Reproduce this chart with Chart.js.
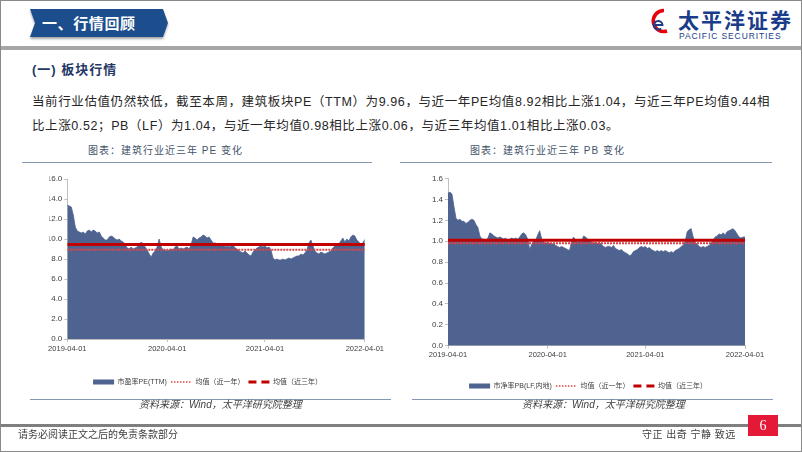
<!DOCTYPE html>
<html>
<head>
<meta charset="utf-8">
<script src="https://cdn.jsdelivr.net/npm/chart.js@4.4.1/dist/chart.umd.min.js"></script>
<style>
  body { margin: 0; width: 802px; height: 452px; position: relative; overflow: hidden; background: #fff;
         font-family: 'Liberation Sans', 'Noto Sans CJK SC', sans-serif; }
  .abs { position: absolute; white-space: nowrap; }
  .frame { left: 0; top: 0; width: 802px; height: 452px; box-sizing: border-box; border: 1px solid #8a8a8a; }
  .hline { position: absolute; }
  .para { font-size: 12.5px; letter-spacing: 0.6px; color: #262626; line-height: 20px; }
  .ctitle { font-size: 10px; letter-spacing: 1px; color: #44546a; line-height: 14px; }
  .src { font-size: 10px; font-style: italic; color: #404040; line-height: 14px; }
  .foot { font-size: 10px; color: #404040; line-height: 14px; }
  canvas { position: absolute; }
</style>
</head>
<body>
<div class="abs frame"></div>

<!-- header -->
<svg class="abs" style="left:0;top:0" width="200" height="46">
  <defs>
    <filter id="sh" x="-10%" y="-10%" width="120%" height="150%">
      <feDropShadow dx="0" dy="2" stdDeviation="1.2" flood-color="#000" flood-opacity="0.35"/>
    </filter>
  </defs>
  <polygon points="30,9 163,9 168,23 163,37 30,37 35,23" fill="#1f4e8c" filter="url(#sh)"/>
  <text x="42" y="29" fill="#fff" font-size="15" font-weight="bold" letter-spacing="0.6"
        font-family="Noto Sans CJK SC">一、行情回顾</text>
</svg>
<div class="hline" style="left:1px;top:46px;width:800px;height:4px;background:#a6a6a6"></div>

<svg class="abs" style="left:644px;top:7px" width="30" height="30">
  <path d="M20,3.5 A10.5,10.5 0 1,0 23,24" stroke="#e60012" stroke-width="3.6" fill="none"/>
  <path d="M10.5,18 h8 a4.3,4.3 0 1,0 -1.4,3.4" stroke="#1d3f87" stroke-width="2" fill="none"/>
</svg>
<div class="abs" style="left:678px;top:6px;font-size:21px;font-weight:bold;color:#1a3c8a;letter-spacing:2px;line-height:26px;font-family:'Noto Sans CJK SC'">太平洋证券</div>
<div class="abs" style="left:679px;top:31px;font-size:8.5px;color:#1a3c8a;letter-spacing:0.9px;line-height:10px">PACIFIC SECURITIES</div>

<!-- text block -->
<div class="abs" style="left:32px;top:62px;font-size:13px;font-weight:bold;color:#1f3864;letter-spacing:1px;line-height:16px">(一) 板块行情</div>
<div class="abs para" style="left:32px;top:92px">当前行业估值仍然较低，截至本周，建筑板块PE（TTM）为9.96，与近一年PE均值8.92相比上涨1.04，与近三年PE均值9.44相</div>
<div class="abs para" style="left:32px;top:116px">比上涨0.52；PB（LF）为1.04，与近一年均值0.98相比上涨0.06，与近三年均值1.01相比上涨0.03。</div>

<!-- chart titles -->
<div class="abs ctitle" style="left:88px;top:144px">图表：建筑行业近三年 PE 变化</div>
<div class="abs ctitle" style="left:470px;top:144px">图表：建筑行业近三年 PB 变化</div>
<div class="hline" style="left:22px;top:162px;width:350px;height:1px;background:#8497b0"></div>
<div class="hline" style="left:400px;top:162px;width:372px;height:1px;background:#8497b0"></div>

<canvas id="peChart" style="left:30px;top:168px;width:356px;height:230px" width="356" height="230"></canvas>
<canvas id="pbChart" style="left:420px;top:168px;width:355px;height:234px" width="355" height="234"></canvas>

<!-- sources -->
<div class="hline" style="left:30px;top:399px;width:361px;height:1px;background:#8497b0"></div>
<div class="hline" style="left:412px;top:399px;width:361px;height:1px;background:#8497b0"></div>
<div class="abs src" style="left:139px;top:398px">资料来源：Wind，太平洋研究院整理</div>
<div class="abs src" style="left:522px;top:398px">资料来源：Wind，太平洋研究院整理</div>

<!-- footer -->
<div class="hline" style="left:1px;top:424px;width:800px;height:3px;background:#7f7f7f"></div>
<div class="abs foot" style="left:18px;top:428px">请务必阅读正文之后的免责条款部分</div>
<div class="abs foot" style="left:642px;top:428px;letter-spacing:0.5px">守正 出奇 宁静 致远</div>
<div class="abs" style="left:748px;top:415px;width:30px;height:21px;background:#e31937;color:#fff;font-size:14px;line-height:21px;text-align:center;font-family:'Liberation Serif',serif">6</div>

<script>
// ── data ─────────────────────────────────────────────────
const dateLabels = ['2019-04-01', '2020-04-01', '2021-04-01', '2022-04-01'];
const tickIdx    = [0, 50, 99, 149];

// weekly PE(TTM)
const peValues = [
  13.4, 13.3, 13.2, 12.4, 11.2, 10.8, 10.7, 10.6, 10.7, 10.5,
  10.8, 10.9, 10.7, 10.9, 10.8, 10.6, 10.7, 10.3, 10.1, 9.9,
  9.9, 10.2, 10.3, 10.2, 10.0, 9.9, 10.0, 9.8, 9.7, 9.4,
  9.1, 9.0, 9.2, 9.0, 9.1, 9.2, 9.4, 9.7, 9.5, 9.2,
  8.9, 8.5, 8.2, 8.6, 8.8, 9.2, 10.0, 9.2, 8.9, 8.9,
  8.8, 8.9, 9.0, 8.9, 9.2, 9.3, 9.0, 9.1, 9.0, 9.1,
  9.2, 9.0, 9.4, 10.2, 10.1, 9.9, 10.1, 10.2, 10.4, 10.3,
  10.1, 10.2, 9.9, 9.6, 9.6, 9.5, 9.6, 9.4, 9.5, 9.2,
  9.3, 9.2, 9.3, 9.4, 9.1, 9.0, 8.8, 8.7, 8.6, 8.8,
  8.6, 8.4, 8.3, 8.7, 8.9, 9.1, 9.2, 9.3, 9.2, 9.3,
  9.1, 9.2, 8.9, 8.1, 7.9, 8.0, 7.9, 7.9, 8.0, 7.9,
  8.0, 8.1, 8.0, 8.1, 8.2, 8.3, 8.3, 8.5, 8.4, 8.6,
  8.9, 9.6, 9.9, 9.3, 8.8, 8.6, 8.5, 8.7, 8.6, 8.5,
  8.6, 8.7, 8.8, 9.1, 9.3, 9.4, 9.5, 9.8, 10.1, 9.7,
  10.0, 9.8, 10.2, 10.4, 10.3, 9.9, 9.7, 9.5, 9.6, 9.96
];
const peAvg1y = 8.92;
const peAvg3y = 9.44;
const peTicks = [0, 2, 4, 6, 8, 10, 12, 14, 16];

// weekly PB(LF)
const pbValues = [
  1.46, 1.47, 1.45, 1.33, 1.22, 1.20, 1.21, 1.19, 1.19, 1.17,
  1.18, 1.20, 1.21, 1.20, 1.16, 1.13, 1.05, 1.02, 1.02, 1.01,
  1.03, 1.08, 1.07, 1.05, 1.04, 1.03, 1.04, 1.03, 1.02, 1.03,
  0.99, 1.02, 1.03, 1.02, 1.03, 1.02, 1.04, 1.07, 1.08, 1.06,
  1.02, 0.92, 0.97, 1.00, 1.01, 1.06, 1.10, 1.02, 0.99, 0.98,
  0.99, 0.98, 0.97, 0.98, 0.96, 0.95, 0.94, 0.95, 0.94, 0.93,
  0.92, 0.91, 1.00, 1.04, 1.01, 0.99, 1.00, 0.99, 1.05, 1.04,
  1.02, 1.01, 0.99, 0.98, 0.99, 0.98, 0.99, 0.97, 0.95, 0.94,
  0.95, 0.95, 0.94, 0.96, 0.93, 0.92, 0.91, 0.92, 0.90, 0.89,
  0.88, 0.86, 0.87, 0.90, 0.91, 0.92, 0.94, 0.95, 0.94, 0.95,
  0.93, 0.94, 0.92, 0.91, 0.90, 0.91, 0.90, 0.91, 0.90, 0.91,
  0.90, 0.89, 0.90, 0.89, 0.91, 0.92, 0.93, 0.95, 0.96, 1.00,
  1.09, 1.11, 1.12, 1.04, 0.99, 0.97, 0.95, 0.94, 0.95, 0.94,
  0.95, 0.96, 0.98, 1.01, 1.04, 1.05, 1.07, 1.06, 1.08, 1.06,
  1.09, 1.10, 1.11, 1.12, 1.10, 1.07, 1.04, 1.03, 1.04, 1.04
];
const pbAvg1y = 0.98;
const pbAvg3y = 1.01;
const pbTicks = [0, 0.2, 0.4, 0.6, 0.8, 1.0, 1.2, 1.4, 1.6];

// ── styles ───────────────────────────────────────────────
const AREA = '#4f6391';
const RED1 = '#d9464a';
const RED3 = '#c00000';
const AXIS = '#bfbfbf';
const TXT  = '#404040';

Chart.defaults.font.family = "'Liberation Sans', 'Noto Sans CJK SC', sans-serif";
Chart.defaults.animation = false;

function makeChart(id, values, avg1, avg3, yTicks, areaLabel, box) {
  const last = values.length - 1;
  return new Chart(document.getElementById(id), {
    type: 'line',
    data: {
      datasets: [
        {
          label: areaLabel,
          data: values.map((v, i) => ({ x: i, y: v })),
          fill: 'origin',
          backgroundColor: AREA,
          borderColor: AREA,
          borderWidth: 0.8,
          pointRadius: 0,
          order: 3
        },
        {
          label: '均值（近一年）',
          data: [{ x: 0, y: avg1 }, { x: last, y: avg1 }],
          borderColor: RED1,
          borderWidth: 2,
          borderDash: [2, 1],
          pointRadius: 0,
          fill: false,
          order: 2
        },
        {
          label: '均值（近三年）',
          data: [{ x: 0, y: avg3 }, { x: last, y: avg3 }],
          borderColor: RED3,
          borderWidth: 3,
          pointRadius: 0,
          fill: false,
          order: 1
        }
      ]
    },
    options: {
      responsive: false,
      layout: { padding: { left: box.padL, right: box.padR, top: box.padT, bottom: box.padB } },
      plugins: {
        tooltip: { enabled: false },
        legend: {
          position: 'bottom',
          labels: {
            usePointStyle: true,
            pointStyleWidth: 21,
            boxHeight: 5,
            padding: 4,
            color: TXT,
            font: { size: 7 },
            generateLabels: () => [
              { text: areaLabel, fillStyle: AREA, strokeStyle: AREA, lineWidth: 0, pointStyle: 'rect', fontColor: TXT, datasetIndex: 0, hidden: false },
              { text: '均值（近一年）', fillStyle: 'rgba(0,0,0,0)', strokeStyle: RED1, lineWidth: 1.3, lineDash: [1.5, 1.5], pointStyle: 'line', fontColor: TXT, datasetIndex: 1, hidden: false },
              { text: '均值（近三年）', fillStyle: 'rgba(0,0,0,0)', strokeStyle: RED3, lineWidth: 3, lineDash: [8, 5], pointStyle: 'line', fontColor: TXT, datasetIndex: 2, hidden: false }
            ]
          }
        }
      },
      scales: {
        x: {
          type: 'linear',
          min: 0,
          max: last,
          afterBuildTicks: (axis) => { axis.ticks = tickIdx.map(v => ({ value: v })); },
          afterFit: (scale) => { scale.height = box.xH; },
          grid: { drawOnChartArea: false, tickLength: 3, color: AXIS },
          border: { color: AXIS },
          ticks: {
            autoSkip: false, maxRotation: 0, padding: 2, color: TXT, font: { size: 7.5 },
            callback: (v) => dateLabels[tickIdx.indexOf(v)]
          }
        },
        y: {
          min: yTicks[0],
          max: yTicks[yTicks.length - 1],
          afterBuildTicks: (axis) => { axis.ticks = yTicks.map(v => ({ value: v })); },
          afterFit: (scale) => { scale.width = box.yW; },
          grid: { drawOnChartArea: false, tickLength: 3, color: AXIS },
          border: { color: AXIS },
          ticks: { padding: 2, color: TXT, font: { size: 8 }, callback: (v) => v.toFixed(1) }
        }
      }
    }
  });
}

makeChart('peChart', peValues, peAvg1y, peAvg3y, peTicks, '市盈率PE(TTM)',
  { padL: 19.3, padR: 20.3, padT: 11, padB: 2.5, xH: 35.5, yW: 18 });
makeChart('pbChart', pbValues, pbAvg1y, pbAvg3y, pbTicks, '市净率PB(LF,内地)',
  { padL: 11, padR: 30, padT: 10.5, padB: 2.5, xH: 32.8, yW: 17 });
</script>
</body>
</html>
